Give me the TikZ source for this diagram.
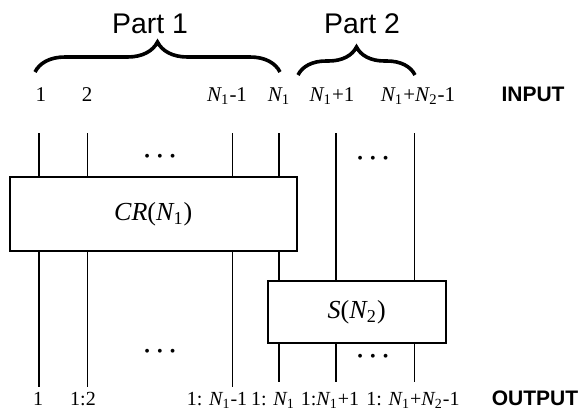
\documentclass[tikz,border=0pt]{standalone}
\usepackage{fontspec}
\setmainfont{Liberation Serif}
\newfontfamily\arialfont{Liberation Sans}
\usetikzlibrary{decorations.pathreplacing,calc}
\newcommand{\Nsub}[1]{\textit{N}\kern-0.04em\textsubscript{#1}}
\newcommand{\wiredots}{\textbullet\hspace{3.6pt}\textbullet\hspace{3.6pt}\textbullet}

\begin{document}
\begin{tikzpicture}[x=0.5pt,y=-0.5pt,
  wire/.style={line width=0.8pt},
  blockbox/.style={draw, line width=1pt, fill=white, inner sep=0pt, font=\fontsize{13}{15}\selectfont},
  lbl/.style={anchor=base, inner sep=0pt, font=\fontsize{10.5}{12}\selectfont},
  outlbl/.style={anchor=base, inner sep=0pt, font=\fontsize{10}{12}\selectfont},
  tag/.style={anchor=base, inner sep=0pt, font=\arialfont\bfseries\fontsize{10.5}{12}\selectfont},
  partlbl/.style={inner sep=0pt, font=\arialfont\fontsize{14.2}{16}\selectfont},
  bracedeco/.style={decorate, decoration={brace, amplitude=#1}, line width=1.8pt},
  dotsnode/.style={inner sep=0pt, font=\fontsize{8}{8}\selectfont}]
  \useasboundingbox (0,0) rectangle (585,418);

  % blocks
  \node[blockbox, minimum width=143.3pt, minimum height=36.6pt] (cr) at (153.3,214) {\textit{CR}(\Nsub{1})};
  \node[blockbox, minimum width=89pt, minimum height=31pt] (s) at (356.7,312) {\textit{S}(\Nsub{2})};

  % wire ends
  \coordinate (top1) at (38.7,133);  \coordinate (end1) at (38.7,387);
  \coordinate (top2) at (87.5,133);  \coordinate (end2) at (87.5,387);
  \coordinate (top3) at (232.5,133); \coordinate (end3) at (232.5,387);
  \coordinate (top4) at (279,133);   \coordinate (end4) at (279,382);
  \coordinate (top5) at (336,133);   \coordinate (end5) at (336,382);
  \coordinate (top6) at (414.5,133); \coordinate (end6) at (414.5,382);

  % part 1 wires through CR
  \draw[wire] (top1) -- (top1 |- cr.north); \draw[wire] (top1 |- cr.south) -- (end1);
  \draw[wire] (top2) -- (top2 |- cr.north); \draw[wire] (top2 |- cr.south) -- (end2);
  \draw[wire] (top3) -- (top3 |- cr.north); \draw[wire] (top3 |- cr.south) -- (end3);
  \draw[wire] (top4) -- (top4 |- cr.north); \draw[wire] (top4 |- cr.south) -- (top4 |- s.north);
  \draw[wire] (top4 |- s.south) -- (end4);
  % part 2 wires through S
  \draw[wire] (top5) -- (top5 |- s.north); \draw[wire] (top5 |- s.south) -- (end5);
  \draw[wire] (top6) -- (top6 |- s.north); \draw[wire] (top6 |- s.south) -- (end6);

  % dots
  \node[dotsnode] (dotsa) at (160,158) {\wiredots};
  \node[dotsnode] (dotsb) at (373,160) {\wiredots};
  \node[dotsnode] (dotsc) at (160,353) {\wiredots};
  \node[dotsnode] (dotsd) at (373,358) {\wiredots};

  % input labels
  \node[lbl] (in1) at (41,101) {1};
  \node[lbl] (in2) at (87,101) {2};
  \node[lbl] (in3) at (227,101) {\Nsub{1}-1};
  \node[lbl] (in4) at (279,101) {\Nsub{1}};
  \node[lbl] (in5) at (332,101) {\Nsub{1}+1};
  \node[lbl] (in6) at (418,101) {\Nsub{1}+\Nsub{2}-1};
  \node[tag] (input) at (533,101) {INPUT};

  % output labels
  \node[outlbl] (out1) at (38,405) {1};
  \node[outlbl] (out2) at (83,405) {1:2};
  \node[outlbl] (out3) at (217,405) {1: \Nsub{1}-1};
  \node[outlbl] (out4) at (273,405) {1: \Nsub{1}};
  \node[outlbl] (out5) at (330,405) {1:\Nsub{1}+1};
  \node[outlbl] (out6) at (413,405) {1: \Nsub{1}+\Nsub{2}-1};
  \node[tag] (output) at (535,405) {OUTPUT};

  % parts
  \coordinate (bra) at (35,72);  \coordinate (brb) at (280,72);
  \coordinate (brc) at (298,75); \coordinate (brd) at (415,75);
  \draw[bracedeco=15pt] (bra) -- (brb);
  \draw[bracedeco=14pt] (brc) -- (brd);
  \node[partlbl] (part1) at (150,24) {Part 1};
  \node[partlbl] (part2) at (362,24) {Part 2};
\end{tikzpicture}
\end{document}
